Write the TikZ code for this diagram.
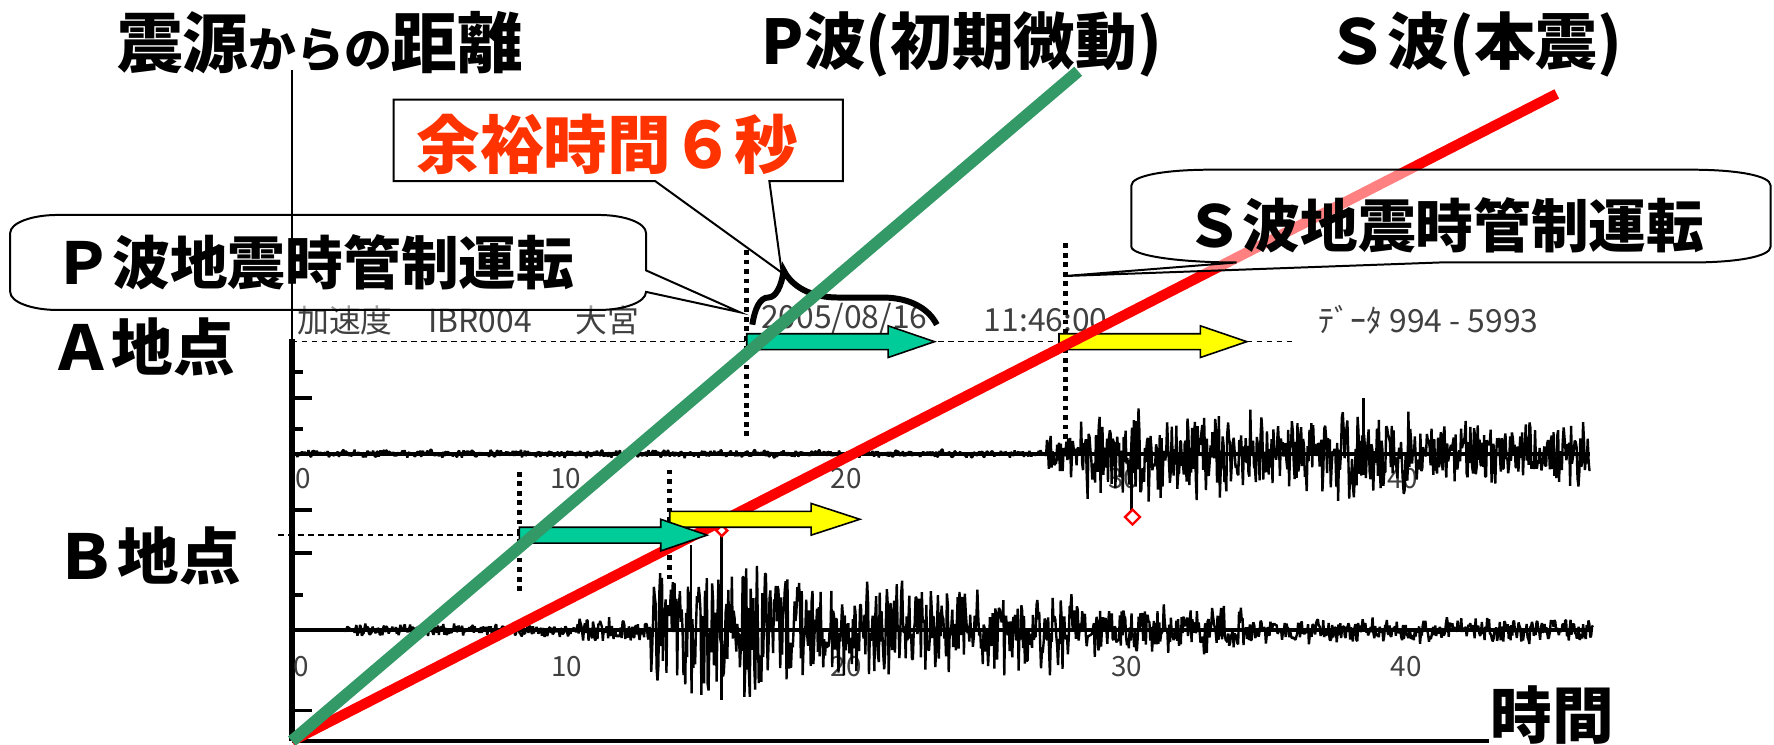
\documentclass[tikz,border=0pt]{standalone}
\usepackage{fontspec}
\newfontfamily\jpfont{Noto Sans CJK JP}
\usepackage{xcolor}
\usepackage{tikz}
\usetikzlibrary{decorations.pathreplacing}
\usetikzlibrary{shapes.geometric}

\definecolor{pgreen}{HTML}{339966}
\definecolor{sred}{HTML}{FF0000}
\definecolor{arrgreen}{HTML}{00CC99}
\definecolor{arryellow}{HTML}{FFFF00}
\definecolor{margin}{HTML}{FF3300}

% block arrow: start, back of head, tip, y, colour
\newcommand{\blockarrow}[5]{%
  \draw[arrowbox, fill=#5] (#1,{#4-7}) -- (#2,{#4-7}) -- (#2,{#4-14}) -- (#3,#4)
    -- (#2,{#4+14}) -- (#2,{#4+7}) -- (#1,{#4+7}) -- cycle;}

\begin{document}
\begin{tikzpicture}[x=0.01cm, y=-0.01cm,
    label/.style={font=\jpfont\bfseries\fontsize{15.5}{18}\selectfont, inner sep=0pt},
    header/.style={font=\jpfont\fontsize{8}{9}\selectfont, text=black!75, inner sep=0pt, anchor=west},
    ticklabel/.style={font=\jpfont\fontsize{7}{8}\selectfont, text=black!75, inner sep=0pt},
    callout/.style={draw, line width=0.5pt, fill=white, fill opacity=0.5},
    arrival/.style={line width=1.2pt, dash pattern=on 1.2pt off 1.2pt},
    guide/.style={line width=0.35pt, dash pattern=on 1.4pt off 1.1pt},
    arrowbox/.style={draw, line width=0.4pt},
    trace/.style={line width=0.6pt, line join=bevel},
    marker/.style={diamond, draw=red, line width=0.6pt, inner sep=0pt, minimum size=4pt},
    declare function={envA(\x)=(\x<925)?4:((\x<955)?22:((\x<1250)?45:33));
      envB(\x)=(\x<305)?0.5:((\x<510)?7:((\x<575)?13:((\x<700)?70:((\x<800)?55:((\x<950)?42:((\x<1100)?26:13))))));}
  ]
  \fill[white] (0,0) rectangle (1568,658.5);
  \useasboundingbox (0,0) rectangle (1568,658.5);

  \coordinate (Origin) at (258,655);
  \coordinate (XAxisMax) at (1316,655);
  \coordinate (YAxisMax) at (258,62);
  \coordinate (PTop) at (953,63);
  \coordinate (STop) at (1376,83);

  % seismograph frame
  \draw[line width=1.4pt] (258,300) -- (Origin);% thick y axis
  \draw[line width=1.2pt] (Origin) -- (XAxisMax);% x axis
  \foreach \ty/\tl in {329/10, 352/18, 379/10, 451/18, 489/18, 526/10, 628/18}
    \draw[line width=0.9pt] (258,\ty) -- ++(\tl,0);
  \draw[line width=1pt] (258,401) -- (1405,401);% baseline A
  \draw[line width=1pt] (258,557) -- (1408,557);% baseline B
  \draw[guide] (258,302) -- (1144,302);
  \draw[guide] (246,473) -- (459,473);

  % tick labels
  \foreach \lx/\lt in {268/0, 500/10, 748/20, 993/30, 1240/40}
    \node[ticklabel] (ta\lt) at (\lx,423) {\lt};
  \foreach \lx/\lt in {266/0, 501/10, 748/20, 996/30, 1243/40}
    \node[ticklabel] (tb\lt) at (\lx,589) {\lt};

  % header of the record
  \node[header] (station) at (262,283) {加速度\hspace{9pt}IBR004\hspace{11pt}大宮};
  \node[header] (date) at (672,282) {2005/08/16};
  \node[header] (clock) at (869,283) {11:46:00};
  \node[header] (data) at (1165,283) {ﾃﾞｰﾀ 994 - 5993};

  % traces
  \pgfmathsetseed{7}
  \draw[trace] plot[domain=262:1405, samples=1400] (\x, {401 + envA(\x)*rand*(0.4+0.6*rnd)});
  \draw[trace] plot[domain=300:1408, samples=1400] (\x, {557 + envB(\x)*rand*(0.4+0.6*rnd)});
  \draw[line width=0.6pt] (1000,401) -- (1000,452);
  \draw[line width=0.6pt] (1205,352) -- (1205,420);
  \draw[line width=0.8pt] (638,472) -- (638,619);
  \draw[line width=0.6pt] (611,482) -- (611,545);
  \node[marker] (markA) at (1001,457) {};
  \node[marker, minimum size=3pt] (markB) at (638,469) {};

  % arrival times
  \draw[arrival] (660,221) -- (660,385);
  \draw[arrival] (942,215) -- (942,390);
  \draw[arrival] (459,417) -- (459,526);
  \draw[arrival] (592,415) -- (592,513);

  \blockarrow{660}{785}{826}{302}{arrgreen}
  \blockarrow{936}{1061}{1102}{302}{arryellow}

  \draw[line width=1.5pt, decorate, decoration={brace, amplitude=0.48cm, aspect=0.17}] (665,287) -- (828,287);

  % wave lines
  \draw[sred, line width=2.6pt] (Origin) -- (STop);
  \blockarrow{592}{717}{760}{459}{arryellow}
  \blockarrow{459}{584}{625}{473}{arrgreen}
  \draw[pgreen, line width=3pt] (Origin) -- (PTop);

  % callouts
  \draw[callout] (51,190) -- (529,190) .. controls (552,190) and (571,197) .. (571,206) -- (571,239)
    -- (654,276) -- (571,258) .. controls (571,267) and (552,274) .. (529,274) -- (51,274)
    .. controls (28,274) and (9,267) .. (9,258) -- (9,206) .. controls (9,197) and (28,190) .. (51,190) -- cycle;
  \draw[callout] (1070,150) -- (1495,150) .. controls (1534,150) and (1565,155) .. (1565,164) -- (1565,218)
    .. controls (1565,227) and (1534,232) .. (1495,232) -- (1273,232) -- (941,244) -- (1093,232)
    .. controls (1042,232) and (1000,226) .. (1000,218) -- (1000,164) .. controls (1000,155) and (1031,150) .. (1070,150) -- cycle;
  \draw[callout, fill opacity=1] (348,88) -- (745,88) -- (745,160) -- (680,160) -- (691,241) -- (579,160) -- (348,160) -- cycle;

  \node[label, font=\jpfont\bfseries\fontsize{14.5}{17}\selectfont] (ptext) at (278,232) {Ｐ波地震時管制運転};
  \node[label, font=\jpfont\bfseries\fontsize{14.5}{17}\selectfont] (stext) at (1277,199) {Ｓ波地震時管制運転};
  \node[label, font=\jpfont\bfseries\fontsize{16}{18}\selectfont, text=margin] (margintext) at (537,128) {余裕時間６秒};

  \draw[line width=0.5pt] (YAxisMax) -- (258,300);% thin y axis

  % labels
  \node[label, font=\jpfont\bfseries\fontsize{16.5}{18}\selectfont] (title) at (283,38) {震源{\fontsize{12}{14}\selectfont からの}距離};
  \node[label] (pwave) at (850,39) {P波(初期微動)};
  \node[label] (swave) at (1303,39) {Ｓ波(本震)};
  \node[label] (pointA) at (126,307) {Ａ地点};
  \node[label] (pointB) at (131,491) {Ｂ地点};
  \node[label] (time) at (1372,632) {時間};
\end{tikzpicture}
\end{document}
